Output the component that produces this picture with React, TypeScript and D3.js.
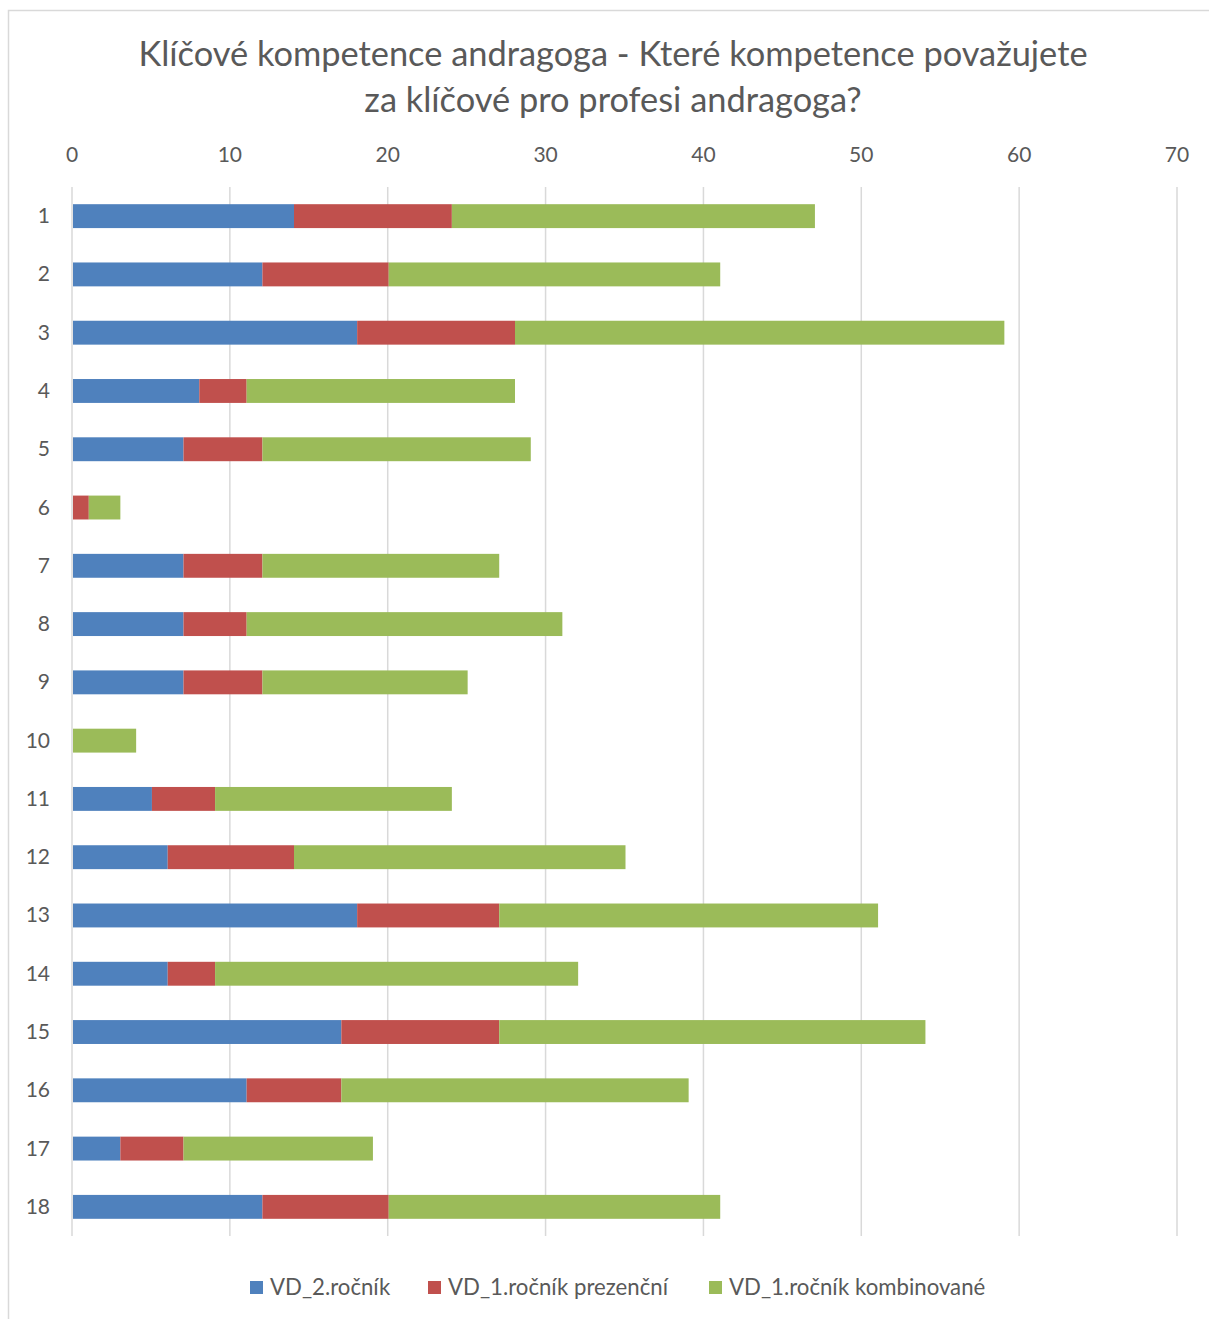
import React from "react";
import * as d3 from "d3";

const categories = ["1","2","3","4","5","6","7","8","9","10","11","12","13","14","15","16","17","18"];
const vd2 = [14,12,18,8,7,0,7,7,7,0,5,6,18,6,17,11,3,12];
const vd1Prez = [10,8,10,3,5,1,5,4,5,0,4,8,9,3,10,6,4,8];
const vd1Komb = [23,21,31,17,17,2,15,20,13,4,15,21,24,23,27,22,12,21];
const seriesNames = ["VD_2.ročník","VD_1.ročník prezenční","VD_1.ročník kombinované"];
const colors = ["#4F81BD","#C0504D","#9BBB59"];
const xTicks = [0,10,20,30,40,50,60,70];
const titleLines = ["Klíčové kompetence andragoga - Které kompetence považujete","za klíčové pro profesi andragoga?"];

export default function App() {
  const W = 1209, H = 1319;
  const left = 72, right = 1177, top = 187, bottom = 1236;
  const x = d3.scaleLinear().domain([0, 70]).range([left, right]);
  const y = d3.scaleBand().domain(categories).range([top, bottom]).paddingInner(0.59).paddingOuter(0.295);
  const rows = categories.map((c, i) => ({ c, v: [vd2[i], vd1Prez[i], vd1Komb[i]] }));
  const stack = d3.stack<any>().keys(["0","1","2"]).value((d: any, k: string) => d.v[+k]);
  const stacked = stack(rows as any);
  const font = "Lato, 'Open Sans', sans-serif";
  const legendX = [250, 428, 709];
  return (
    <svg width={W} height={H} style={{ position: "absolute", left: 0, top: 0 }} fontFamily={font}>
      <rect x={0} y={0} width={W} height={H} fill="#fff" />
      <rect x={8.5} y={10.5} width={W + 10} height={H + 10} fill="none" stroke="#D9D9D9" strokeWidth={1.5} />
      {titleLines.map((t, i) => (
        <text key={i} x={613} y={66 + i * 46} textAnchor="middle" fontSize={34.4} fill="#595959">{t}</text>
      ))}
      {xTicks.map(t => (
        <g key={t}>
          <line x1={x(t)} x2={x(t)} y1={top} y2={bottom} stroke="#D9D9D9" strokeWidth={1.5} />
          <text x={x(t)} y={162} textAnchor="middle" fontSize={21} fill="#595959">{t}</text>
        </g>
      ))}
      {stacked.map((s: any, si: number) => (
        <g key={si} fill={colors[si]}>
          {s.map((d: any, i: number) => d[1] - d[0] > 0 ? (
            <rect key={i} x={x(d[0]) + 1} y={y(categories[i])!} width={x(d[1]) - x(d[0])} height={y.bandwidth()} />
          ) : null)}
        </g>
      ))}
      {categories.map(c => (
        <text key={c} x={50} y={y(c)! + y.bandwidth() / 2 + 7} textAnchor="end" fontSize={21} fill="#595959">{c}</text>
      ))}
      {seriesNames.map((n, i) => (
        <g key={n}>
          <rect x={legendX[i]} y={1281} width={13} height={13} fill={colors[i]} />
          <text x={legendX[i] + 20} y={1295} fontSize={22.2} fill="#595959">{n}</text>
        </g>
      ))}
    </svg>
  );
}
